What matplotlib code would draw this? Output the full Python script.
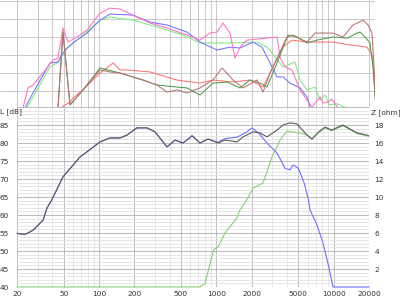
import matplotlib.pyplot as plt
from matplotlib.ticker import FixedLocator, NullLocator, NullFormatter

# ---- top panel (cropped measurement graph, arbitrary level units, 10 per grid) ----
pink_f = [22.5, 24.8, 27.4, 33.3, 40.5, 44.7, 49.3, 54.4, 64.9, 79, 102, 124, 151, 195, 272, 380, 562, 726,
          883, 1013, 1139, 1308, 1442, 1591, 1825, 2703, 3290, 3488, 3848, 4415, 5164, 5923, 6535, 7640,
          8110, 9000, 9600, 10800]
pink_v = [0.6, 11.7, 13.3, 20, 27.2, 28.3, 45, 37.2, 40, 43.9, 53.3, 56.1, 55.6, 52.2, 47.8, 45, 41.1, 38.3,
          42.2, 42.8, 47.8, 42.2, 28.3, 34.4, 38.3, 39.4, 40, 28.9, 23.3, 21.7, 10.6, 5, 1.1, 6.7,
          3.3, 3.9, 5.5, 1]

blue_f = [23.4, 26.8, 38.2, 44.7, 51.3, 60, 79, 102, 124, 195, 272, 380, 562, 726, 1013, 1308, 1591, 2053,
          2450, 2703, 3290, 3700, 4245, 5164, 5923, 6284]
blue_v = [0.6, 7.8, 25.6, 26.1, 32.8, 36.7, 42.2, 49.4, 52.8, 52.2, 48.3, 46.7, 42.8, 37.2, 32.8, 34.4, 33.9, 37.2,
          34.4, 28.9, 17.8, 17.8, 14.4, 11.7, 6.7, 1.1]

lgreen_f = [24.3, 38.2, 43.8, 53.4, 73, 102, 124, 195, 312, 520, 726, 1075, 1387, 2221, 2703, 3700, 4677, 5164,
            5923, 6935, 7640, 8435, 9200, 10500, 12500]
lgreen_v = [0.6, 23.3, 25.6, 33.9, 41.1, 49.4, 51.1, 49.4, 45.6, 41.1, 36.7, 36.7, 36.7, 37.2, 34.4, 23.3, 26.1, 16.1,
            10.6, 12.2, 5, 7.8, 2.2, 3, 1]

brown_f = [44.7, 49.3, 56.6, 73, 102, 124, 151, 195, 237, 312, 380, 462, 562, 726, 937, 1117, 1387, 1688, 2221,
           2500, 2866, 3290, 4000, 4500, 5923, 6935, 9870, 12000, 14620, 17790, 19630, 21220, 22080, 22960]
brown_v = [0.6, 42.8, 2.2, 10.6, 21.7, 20.6, 20, 17.8, 16.1, 13.3, 9.4, 10.6, 8.9, 11.7, 16.1, 22.8, 16.1, 11.7, 16.1,
           9.4, 20, 28.3, 40, 41.1, 37.2, 42.2, 42.2, 40, 46.7, 49.4, 46.7, 42.2, 23.3, -0.5]

dgreen_f = [44.7, 49.3, 56.6, 73, 102, 151, 237, 312, 462, 562, 726, 937, 1233, 1591, 1935, 2356, 2703, 3290,
            4083, 4865, 5923, 7210, 9870, 12980, 15820, 16760, 18500, 20400, 21640, 22960]
dgreen_v = [0.6, 42.8, 2.2, 10.6, 22.8, 20, 16.1, 13.3, 12.2, 11.7, 7.8, 14.4, 15, 11.7, 16.1, 14.4, 12.2, 25.6,
            41.1, 40, 36.7, 38.3, 40, 39.4, 42.2, 42.8, 40, 36.7, 23.3, -0.5]

red_f = [48.4, 56.6, 60, 73, 102, 132, 151, 173, 272, 331, 462, 726, 937, 1387, 1935, 2500, 3039, 3700, 4415,
         5923, 7640, 9870, 13780, 19230, 21220, 22080, 22960]
red_v = [1.1, 3.9, 6.1, 10.6, 20, 25.6, 21.7, 21.7, 20.6, 18.9, 16.1, 14.4, 16.1, 15, 16.1, 12.2, 23.3, 34.4, 38.3,
         37.2, 37.2, 37.2, 35.6, 34.4, 30, 18.9, -0.5]

# ---- bottom panel: SPL [dB] ----
black_f = [20, 23.4, 27.5, 33.4, 36, 39.6, 49.3, 68.8, 102, 124, 151, 173, 210, 256, 300, 380, 444, 520, 621, 726,
           849, 1033, 1185, 1500, 1688, 2053, 2356, 2703, 3290, 3700, 4245, 4865, 5923, 6535, 7400, 8435, 9600,
           12000, 14300, 15820, 19230, 20000]
black_db = [54.9, 54.6, 55.8, 58.6, 61.9, 64.2, 70.6, 76.1, 80.3, 81.4, 81.4, 82.2, 84.2, 84.2, 83.1, 78.9, 80.8, 80,
            82, 80, 81.1, 80, 80.8, 80.3, 81.7, 83.1, 82.8, 81.7, 83.6, 85, 85.6, 85.3, 82.2, 81.1, 83, 84.4, 83.6,
            85, 83.6, 82.8, 82.2, 82]

woofer_f = [20, 23.4, 27.5, 33.4, 36, 39.6, 49.3, 68.8, 102, 124, 151, 173, 210, 256, 300, 380, 444, 520, 621, 726,
            849, 1033, 1185, 1308, 1500, 1825, 2012, 2290, 2703, 3290, 3848, 4245, 4500, 5000, 5600, 6100, 6284,
            7210, 8110, 9000, 9870, 20000]
woofer_db = [54.9, 54.6, 55.8, 58.6, 61.9, 64.2, 70.6, 76.1, 80.3, 81.4, 81.4, 82.2, 84.2, 84.2, 83.1, 78.9, 80.8, 80,
             82, 80, 81.1, 80.2, 81.2, 81.4, 81.6, 83.1, 84.2, 82.8, 80, 77.2, 73, 72.5, 73.9, 73, 68.9, 64.2, 61.4,
             57.2, 52.2, 46.1, 40, 40]

tweeter_f = [20, 726, 800, 947, 1040, 1185, 1490, 1591, 1820, 2053, 2500, 2981, 3488, 4000, 5164, 5923, 6535, 7400,
             8435, 9600, 12000, 14300, 15820, 19230, 20000]
tweeter_db = [40, 40, 41, 50.3, 51.2, 55, 59.1, 61.4, 64.2, 67.5, 68.9, 76.1, 80.8, 83.3, 82.8, 82.2, 81.1, 82.8,
              84.2, 83.4, 84.8, 83.4, 82.6, 82, 81.8]

x_ticks = [20, 50, 100, 200, 500, 1000, 2000, 5000, 10000, 20000]
x_minor = [30, 40, 60, 70, 80, 90, 300, 400, 600, 700, 800, 900, 3000, 4000, 6000, 7000, 8000, 9000]
db_ticks = [40, 45, 50, 55, 60, 65, 70, 75, 80, 85]
ohm_ticks = [2, 4, 6, 8, 10, 12, 14, 16, 18]

W, H = 400, 306
fig = plt.figure(figsize=(W / 100, H / 100), dpi=100)
plt.rcParams['font.family'] = ['DejaVu Sans']

# bottom panel geometry in pixels
bx0, bx1, by0, by1 = 17, 369, 107, 287
# top panel shares the same log scale
tx0, tx1, ty0, ty1 = 0, 375, 0, 107
dec = 3 / (bx1 - bx0)

axt = fig.add_axes([tx0 / W, 1 - ty1 / H, (tx1 - tx0) / W, (ty1 - ty0) / H])
axt.set_xscale('log')
axt.set_xlim(20 * 10 ** ((tx0 - bx0) * dec), 20 * 10 ** ((tx1 - bx0) * dec))
axt.set_ylim(1.1, 60.6)
for s in axt.spines.values():
    s.set_visible(False)
axt.xaxis.set_major_locator(FixedLocator([20, 30, 40, 50, 60, 70, 80, 90, 100, 200, 300, 400, 500, 600, 700, 800,
                                          900, 1000, 2000, 3000, 4000, 5000, 6000, 7000, 8000, 9000, 10000, 20000]))
axt.xaxis.set_minor_locator(NullLocator())
axt.yaxis.set_major_locator(FixedLocator([10, 20, 30, 40, 50, 60]))
axt.tick_params(length=0, labelbottom=False, labelleft=False)
axt.grid(True, color='#c2c2c2', lw=0.6)
lw = 0.75
axt.plot(lgreen_f, lgreen_v, color='#7fea7f', lw=lw)
axt.plot(blue_f, blue_v, color='#7272ff', lw=lw)
axt.plot(pink_f, pink_v, color='#ff6fc4', lw=lw)
axt.plot(red_f, red_v, color='#ff7272', lw=lw)
axt.plot(dgreen_f, dgreen_v, color='#4f9a4f', lw=lw)
axt.plot(brown_f, brown_v, color='#b87272', lw=lw)

ax = fig.add_axes([bx0 / W, 1 - by1 / H, (bx1 - bx0) / W, (by1 - by0) / H])
ax.set_xscale('log')
ax.set_xlim(20, 20000)
ax.set_ylim(40, 90)
ax.xaxis.set_major_locator(FixedLocator(x_ticks))
ax.xaxis.set_minor_locator(FixedLocator(x_minor))
ax.xaxis.set_minor_formatter(NullFormatter())
ax.set_xticklabels([str(t) for t in x_ticks])
ax.yaxis.set_major_locator(FixedLocator(db_ticks + [90]))
ax.yaxis.set_minor_locator(FixedLocator([v for v in range(40, 91) if v % 5]))
ax.set_yticklabels([str(t) for t in db_ticks] + [''])
ax.grid(True, which='major', color='#b0b0b0', lw=0.6)
ax.grid(True, which='minor', color='#e2e2e2', lw=0.6)
ax.tick_params(which='both', length=0, labelsize=5.3, colors='#333333', pad=3)
ax.tick_params(axis='y', pad=6)
for s in ax.spines.values():
    s.set_visible(False)
fig.text(0.0, 1 - by0 / H - 0.004, 'L [dB]', ha='left', va='top', fontsize=5.3, color='#333333')

ax.plot(tweeter_f, tweeter_db, color='#86d276', lw=0.8, clip_on=False)
ax.plot(woofer_f, woofer_db, color='#7070ff', lw=0.8, clip_on=False)
ax.plot(black_f, black_db, color='#5a5a5a', lw=0.8)

ax2 = ax.twinx()
ax2.set_ylim(0, 20)
ax2.yaxis.set_major_locator(FixedLocator(ohm_ticks))
ax2.tick_params(length=0, labelsize=5.3, colors='#333333', pad=4)
for s in ax2.spines.values():
    s.set_visible(False)
ax2.text(1.005, 0.99, 'Z [ohm]', transform=ax2.transAxes, ha='left', va='top', fontsize=5.3, color='#333333')

fig.savefig('out.png', dpi=100, facecolor='white')
